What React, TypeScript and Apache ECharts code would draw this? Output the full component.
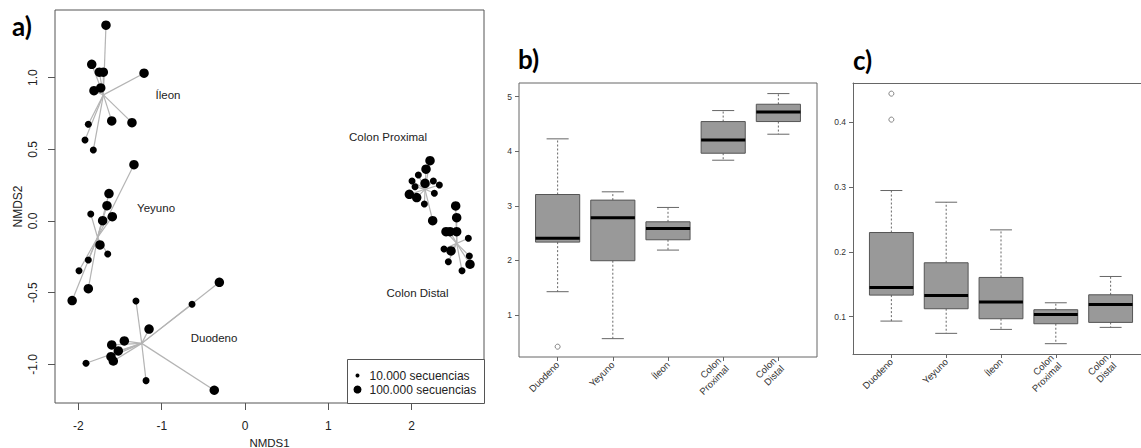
import React, { useEffect, useRef } from "react";
import * as echarts from "echarts";

// ---------- Panel a: NMDS ordination  [NMDS1, NMDS2, secuencias] ----------
const ileonPoints = [
  [-1.669, 1.366, 100000],
  [-1.84, 1.093, 100000],
  [-1.749, 1.038, 100000],
  [-1.701, 1.038, 100000],
  [-1.212, 1.031, 100000],
  [-1.813, 0.909, 100000],
  [-1.732, 0.928, 100000],
  [-1.6, 0.698, 100000],
  [-1.357, 0.686, 100000],
  [-1.881, 0.675, 10000],
  [-1.921, 0.565, 10000],
  [-1.821, 0.495, 10000],
];
const ileonCentroid = [-1.7, 0.88];

const yeyunoPoints = [
  [-1.333, 0.393, 100000],
  [-1.633, 0.191, 100000],
  [-1.657, 0.107, 100000],
  [-1.852, 0.049, 10000],
  [-1.593, 0.03, 100000],
  [-1.709, 0.002, 100000],
  [-1.741, -0.167, 100000],
  [-1.648, -0.23, 10000],
  [-1.881, -0.272, 10000],
  [-1.993, -0.347, 10000],
  [-1.881, -0.472, 100000],
  [-2.075, -0.555, 100000],
];
const yeyunoCentroid = [-1.77, -0.115];

const duodenoPoints = [
  [-0.308, -0.428, 100000],
  [-0.636, -0.581, 10000],
  [-1.309, -0.558, 10000],
  [-1.152, -0.754, 100000],
  [-1.449, -0.837, 100000],
  [-1.6, -0.865, 100000],
  [-1.521, -0.907, 100000],
  [-1.609, -0.947, 100000],
  [-1.581, -0.977, 100000],
  [-1.909, -0.993, 10000],
  [-1.188, -1.114, 10000],
  [-0.369, -1.181, 100000],
];
const duodenoCentroid = [-1.24, -0.854];

const colonProxPoints = [
  [2.221, 0.421, 100000],
  [2.173, 0.361, 100000],
  [2.081, 0.321, 10000],
  [2.005, 0.279, 10000],
  [2.041, 0.239, 10000],
  [2.161, 0.263, 100000],
  [2.261, 0.279, 10000],
  [2.333, 0.251, 10000],
  [2.273, 0.193, 10000],
  [1.973, 0.186, 100000],
  [2.061, 0.163, 100000],
  [2.153, 0.119, 10000],
  [2.253, 0.002, 100000],
];
const colonProxCentroid = [2.161, 0.221];

const colonDistPoints = [
  [2.529, 0.105, 100000],
  [2.541, 0.023, 100000],
  [2.413, -0.075, 100000],
  [2.461, -0.075, 100000],
  [2.541, -0.075, 100000],
  [2.681, -0.121, 10000],
  [2.389, -0.195, 10000],
  [2.473, -0.209, 100000],
  [2.693, -0.244, 10000],
  [2.441, -0.284, 10000],
  [2.701, -0.302, 100000],
  [2.605, -0.347, 10000],
];
const colonDistCentroid = [2.541, -0.156];

const groupLabels = [
  ["Íleon", -0.924, 0.879],
  ["Yeyuno", -1.068, 0.091],
  ["Duodeno", -0.372, -0.816],
  ["Colon Proximal", 1.717, 0.586],
  ["Colon Distal", 2.071, -0.502],
];

const nmdsXTicks = [-2, -1, 0, 1, 2];
const nmdsYTicks = [-1.0, -0.5, 0.0, 0.5, 1.0];
const legendLabels = ["10.000 secuencias", "100.000 secuencias"];

// ---------- Panels b / c: boxplots [min, Q1, mediana, Q3, max] ----------
const boxCategories = ["Duodeno", "Yeyuno", "Íleon", "Colon\nProximal", "Colon\nDistal"];
const boxPositions = [1, 2, 3, 4, 5];

const shannonStats = [
  [1.427, 2.335, 2.408, 3.207, 4.226],
  [0.567, 1.994, 2.78, 3.104, 3.256],
  [2.189, 2.378, 2.585, 2.707, 2.97],
  [3.835, 3.963, 4.207, 4.543, 4.744],
  [4.311, 4.543, 4.72, 4.86, 5.055],
];
const shannonOutliers = [[1, 0.42]];
const shannonTicks = [1, 2, 3, 4, 5];

const simpsonStats = [
  [0.0933, 0.1333, 0.1451, 0.2297, 0.2944],
  [0.0744, 0.1123, 0.1328, 0.1831, 0.2764],
  [0.0805, 0.0969, 0.1226, 0.1605, 0.2338],
  [0.0585, 0.0892, 0.1036, 0.1108, 0.1215],
  [0.0836, 0.0913, 0.119, 0.1338, 0.162],
];
const simpsonOutliers = [
  [1, 0.4436],
  [1, 0.4036],
];
const simpsonTicks = [0.1, 0.2, 0.3, 0.4];

const FONT = "'Liberation Sans', Arial, sans-serif";

const groups = [
  { pts: ileonPoints, c: ileonCentroid },
  { pts: yeyunoPoints, c: yeyunoCentroid },
  { pts: duodenoPoints, c: duodenoCentroid },
  { pts: colonProxPoints, c: colonProxCentroid },
  { pts: colonDistPoints, c: colonDistCentroid },
];

function boxRender(params: any, api: any) {
  const x = api.value(0);
  const lo = api.value(1);
  const q1 = api.value(2);
  const med = api.value(3);
  const q3 = api.value(4);
  const hi = api.value(5);
  const pLo = api.coord([x, lo]);
  const pQ1 = api.coord([x, q1]);
  const pMed = api.coord([x, med]);
  const pQ3 = api.coord([x, q3]);
  const pHi = api.coord([x, hi]);
  const half = api.size([0.8, 0])[0] / 2;
  const cap = half / 2;
  const cx = pMed[0];
  const whisk = { stroke: "#666", lineWidth: 1, lineDash: [2, 2] };
  const solid = { stroke: "#666", lineWidth: 1 };
  return {
    type: "group",
    children: [
      { type: "line", shape: { x1: cx, y1: pQ3[1], x2: cx, y2: pHi[1] }, style: whisk },
      { type: "line", shape: { x1: cx, y1: pQ1[1], x2: cx, y2: pLo[1] }, style: whisk },
      { type: "line", shape: { x1: cx - cap, y1: pHi[1], x2: cx + cap, y2: pHi[1] }, style: solid },
      { type: "line", shape: { x1: cx - cap, y1: pLo[1], x2: cx + cap, y2: pLo[1] }, style: solid },
      {
        type: "rect",
        shape: { x: cx - half, y: pQ3[1], width: half * 2, height: pQ1[1] - pQ3[1] },
        style: { fill: "#999999", stroke: "#555", lineWidth: 1 },
      },
      {
        type: "line",
        shape: { x1: cx - half, y1: pMed[1], x2: cx + half, y2: pMed[1] },
        style: { stroke: "#000", lineWidth: 3 },
      },
    ],
  };
}

export default function App() {
  const ref = useRef<HTMLDivElement>(null);

  useEffect(() => {
    if (!ref.current) return;
    const chart = echarts.init(ref.current, undefined, { renderer: "svg" });

    const spiderData: number[][] = [];
    const pointData: number[][] = [];
    groups.forEach((g) => {
      g.pts.forEach((p) => {
        spiderData.push([p[0], p[1], g.c[0], g.c[1]]);
        pointData.push([p[0], p[1], p[2]]);
      });
    });

    const frameLine = { show: true, onZero: false, lineStyle: { color: "#666", width: 1 } };

    const boxXAxis = (gridIndex: number, line: boolean) => ({
      gridIndex,
      type: "value",
      min: 0.3,
      max: 5.7,
      axisLine: line ? frameLine : { show: false, onZero: false },
      splitLine: { show: false },
      axisTick: { customValues: boxPositions, length: 4, lineStyle: { color: "#666" } },
      axisLabel: {
        customValues: boxPositions,
        formatter: (v: number) => boxCategories[Math.round(v) - 1] ?? "",
        rotate: 45,
        fontSize: 9.5,
        color: "#333",
        margin: 6,
        lineHeight: 11,
      },
    });

    const option: any = {
      animation: false,
      textStyle: { fontFamily: FONT },
      grid: [
        {
          left: 55, top: 10, right: 657, bottom: 45,
          show: true, borderColor: "#555", borderWidth: 1, outerBoundsMode: "none",
        },
        {
          left: 519, top: 83, right: 324, bottom: 91,
          show: true, borderColor: "#666", borderWidth: 1, outerBoundsMode: "none",
        },
        { left: 853, top: 83, width: 296, bottom: 94, show: false, outerBoundsMode: "none" },
      ],
      xAxis: [
        {
          gridIndex: 0,
          type: "value",
          min: -2.281,
          max: 2.869,
          axisLine: { show: false, onZero: false },
          splitLine: { show: false },
          axisTick: { customValues: nmdsXTicks, length: 7, lineStyle: { color: "#555" } },
          axisLabel: {
            customValues: nmdsXTicks,
            formatter: (v: number) => String(v),
            margin: 17,
            fontSize: 12,
            color: "#222",
          },
          name: "NMDS1",
          nameLocation: "middle",
          nameGap: 29,
          nameTextStyle: { fontSize: 11.5, color: "#222", fontFamily: FONT },
        },
        boxXAxis(1, false),
        boxXAxis(2, true),
        {
          gridIndex: 2,
          type: "value",
          position: "top",
          min: 0.3,
          max: 5.7,
          axisLine: frameLine,
          axisTick: { show: false },
          axisLabel: { show: false },
          splitLine: { show: false },
        },
      ],
      yAxis: [
        {
          gridIndex: 0,
          type: "value",
          min: -1.27,
          max: 1.472,
          axisLine: { show: false, onZero: false },
          splitLine: { show: false },
          axisTick: { customValues: nmdsYTicks, length: 7, lineStyle: { color: "#555" } },
          axisLabel: {
            customValues: nmdsYTicks,
            formatter: (v: number) => v.toFixed(1),
            rotate: 90,
            margin: 16,
            fontSize: 12,
            color: "#222",
          },
          name: "NMDS2",
          nameLocation: "middle",
          nameGap: 31,
          nameTextStyle: { fontSize: 12, color: "#222", fontFamily: FONT },
        },
        {
          gridIndex: 1,
          type: "value",
          min: 0.231,
          max: 5.249,
          axisLine: { show: false, onZero: false },
          splitLine: { show: false },
          axisTick: { customValues: shannonTicks, length: 4, lineStyle: { color: "#666" } },
          axisLabel: { customValues: shannonTicks, fontSize: 8.5, color: "#333", margin: 7 },
        },
        {
          gridIndex: 2,
          type: "value",
          min: 0.0426,
          max: 0.46,
          axisLine: frameLine,
          splitLine: { show: false },
          axisTick: { customValues: simpsonTicks, length: 4, lineStyle: { color: "#666" } },
          axisLabel: {
            customValues: simpsonTicks,
            formatter: (v: number) => v.toFixed(1),
            fontSize: 8.5,
            color: "#333",
            margin: 7,
          },
        },
      ],
      series: [
        {
          type: "custom",
          xAxisIndex: 0,
          yAxisIndex: 0,
          silent: true,
          encode: { x: 0, y: 1 },
          data: spiderData,
          renderItem: (params: any, api: any) => {
            const p = api.coord([api.value(0), api.value(1)]);
            const c = api.coord([api.value(2), api.value(3)]);
            return {
              type: "line",
              shape: { x1: c[0], y1: c[1], x2: p[0], y2: p[1] },
              style: { stroke: "#b4b4b4", lineWidth: 1.2 },
            };
          },
          z: 1,
        },
        {
          type: "scatter",
          xAxisIndex: 0,
          yAxisIndex: 0,
          data: pointData,
          symbol: "circle",
          symbolSize: (v: number[]) => (v[2] >= 100000 ? 9.5 : 7),
          itemStyle: { color: "#000", opacity: 1 },
          z: 2,
        },
        {
          type: "custom",
          xAxisIndex: 0,
          yAxisIndex: 0,
          silent: true,
          encode: { x: 1, y: 2 },
          data: groupLabels,
          renderItem: (params: any, api: any) => {
            const p = api.coord([api.value(1), api.value(2)]);
            return {
              type: "text",
              x: p[0],
              y: p[1],
              style: {
                text: groupLabels[params.dataIndex][0],
                fill: "#222",
                font: `11.5px ${FONT}`,
                textAlign: "center",
                textVerticalAlign: "middle",
              },
            };
          },
          z: 3,
        },
        {
          type: "custom",
          xAxisIndex: 1,
          yAxisIndex: 1,
          silent: true,
          encode: { x: 0, y: [1, 2, 3, 4, 5] },
          data: shannonStats.map((s, i) => [boxPositions[i], ...s]),
          renderItem: boxRender,
        },
        {
          type: "scatter",
          xAxisIndex: 1,
          yAxisIndex: 1,
          data: shannonOutliers,
          symbol: "circle",
          symbolSize: 5,
          itemStyle: { color: "#fff", borderColor: "#666", borderWidth: 1 },
        },
        {
          type: "custom",
          xAxisIndex: 2,
          yAxisIndex: 2,
          silent: true,
          encode: { x: 0, y: [1, 2, 3, 4, 5] },
          data: simpsonStats.map((s, i) => [boxPositions[i], ...s]),
          renderItem: boxRender,
        },
        {
          type: "scatter",
          xAxisIndex: 2,
          yAxisIndex: 2,
          data: simpsonOutliers,
          symbol: "circle",
          symbolSize: 5,
          itemStyle: { color: "#fff", borderColor: "#666", borderWidth: 1 },
        },
      ],
      graphic: [
        {
          type: "text",
          left: 12,
          top: 13,
          style: { text: "a)", font: "bold 26px Lato, 'Open Sans', sans-serif", fill: "#000" },
        },
        {
          type: "text",
          left: 518,
          top: 46,
          style: { text: "b)", font: "bold 26px Lato, 'Open Sans', sans-serif", fill: "#000" },
        },
        {
          type: "text",
          left: 853,
          top: 47,
          style: { text: "c)", font: "bold 26px Lato, 'Open Sans', sans-serif", fill: "#000" },
        },
        {
          type: "group",
          left: 347,
          top: 359,
          z: 100,
          children: [
            {
              type: "rect",
              shape: { x: 0, y: 0, width: 137, height: 44 },
              style: { fill: "#fff", stroke: "#555", lineWidth: 1 },
            },
            { type: "circle", shape: { cx: 10, cy: 16, r: 2 }, style: { fill: "#000" } },
            { type: "circle", shape: { cx: 10, cy: 30, r: 4 }, style: { fill: "#000" } },
            {
              type: "text",
              x: 22,
              y: 16,
              style: { text: legendLabels[0], font: `12px ${FONT}`, fill: "#222", textVerticalAlign: "middle" },
            },
            {
              type: "text",
              x: 22,
              y: 30,
              style: { text: legendLabels[1], font: `12px ${FONT}`, fill: "#222", textVerticalAlign: "middle" },
            },
          ],
        },
      ],
    };

    chart.setOption(option);
    return () => chart.dispose();
  }, []);

  return (
    <div
      ref={ref}
      style={{ position: "fixed", left: 0, top: 0, width: 1141, height: 448, background: "#fff" }}
    />
  );
}
